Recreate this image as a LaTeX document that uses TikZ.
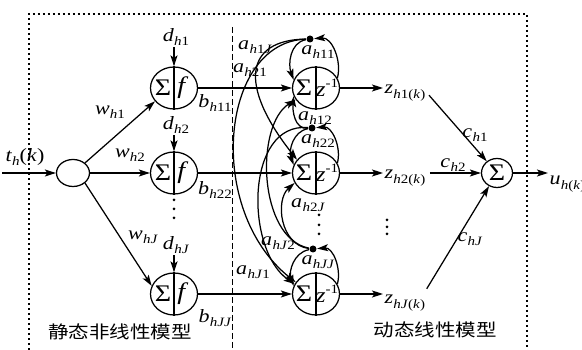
\documentclass[tikz,border=0pt]{standalone}
\usepackage{graphicx}
\usepackage{fontspec}
\setmainfont{Liberation Serif}
\newfontfamily\cjk{Noto Sans CJK SC}
\usetikzlibrary{shapes.geometric,arrows.meta}
\newcommand{\sq}[1]{\scalebox{1}[0.85]{#1}}
\newcommand{\sbs}[1]{\raisebox{-0.5ex}{\fontsize{15}{15}\selectfont #1}}
\newcommand{\vr}[2]{\sq{\textit{#1}\kern0.3pt\sbs{#2}}}
\newcommand{\ih}{\textit{h}}
\begin{document}
\begin{tikzpicture}[x=1pt,y=1pt,
  >={Stealth[length=11pt,width=7pt,inset=2.5pt]},
  line width=1.25pt,
  big/.style={ellipse,draw,minimum width=47pt,minimum height=42pt,inner sep=0pt},
  lab/.style={font=\fontsize{22}{24}\selectfont,inner sep=1pt},
  sym/.style={font=\fontsize{28}{30}\selectfont,inner sep=0pt},
  cjkl/.style={font=\cjk\fontsize{20.5}{22}\selectfont,inner sep=0pt},
  bdot/.style={circle,fill,inner sep=0pt,minimum size=7pt},
  sdot/.style={circle,fill,inner sep=0pt,minimum size=3pt},
  frame/.style={line width=1.6pt,dash pattern=on 1.6pt off 3.4pt},
  sepline/.style={line width=1pt,dash pattern=on 6pt off 3pt}
]
\useasboundingbox (0,0) rectangle (582,350);

% frame and separator
\draw[frame] (29,0) -- (29,336) -- (527,336) -- (527,0);
\draw[sepline] (232,323) -- (232,0);

% main nodes
\node[ellipse,draw,minimum width=33pt,minimum height=27pt,inner sep=0pt] (in) at (73,177) {};
\node[big] (f1) at (174,262) {};
\node[big] (f2) at (174,177) {};
\node[big] (f3) at (174,56) {};
\node[big] (z1) at (316,262) {};
\node[big] (z2) at (316,177) {};
\node[big] (z3) at (316,56) {};
\node[ellipse,draw,minimum width=31pt,minimum height=29pt,inner sep=0pt] (S) at (497,177) {};
\node[sym] (Sg) at (S) {\sq{Σ}};

\foreach \i in {1,2,3}{
  \draw (f\i.north) -- (f\i.south);
  \node[sym] (sf\i) at ([xshift=-11pt]f\i.center) {\sq{Σ}};
  \node[sym] (ff\i) at ([xshift=9pt]f\i.center) {\sq{\textit{f}}};
  \draw (z\i.north) -- (z\i.south);
  \node[sym] (sz\i) at ([xshift=-12pt]z\i.center) {\sq{Σ}};
  \node[lab,inner sep=0pt,font=\fontsize{25}{27}\selectfont] (zz\i) at ([xshift=11pt]z\i.center) {\sq{\textit{z}\raisebox{0.9ex}{\fontsize{15}{15}\selectfont -1}}};
}

% feedback dots
\node[bdot] (D1) at (310,311) {};
\node[bdot] (D2) at (312,222) {};
\node[bdot] (D3) at (313,101) {};

% labels
\node[lab] (t) at (25,193) {\sq{\textit{t}\sbs{\ih}(\textit{k})}};
\node[lab] (w1) at (110,238) {\vr{w}{\ih1}};
\node[lab] (w2) at (130,195) {\vr{w}{\ih2}};
\node[lab] (w3) at (143,113) {\vr{w}{\ih\textit{J}}};
\node[lab] (d1) at (176,313) {\vr{d}{\ih1}};
\node[lab] (d2) at (176,225) {\vr{d}{\ih2}};
\node[lab] (d3) at (176,105) {\vr{d}{\ih\textit{J}}};
\node[lab] (b1) at (215,247) {\vr{b}{\ih11}};
\node[lab] (b2) at (215,160) {\vr{b}{\ih22}};
\node[lab] (b3) at (215,32) {\vr{b}{\ih\textit{JJ}}};
\node[lab] (a11) at (318,298) {\vr{a}{\ih11}};
\node[lab] (a1J) at (255,303) {\vr{a}{\ih1\textit{J}}};
\node[lab] (a21) at (250,280) {\vr{a}{\ih21}};
\node[lab] (a12) at (315,232) {\vr{a}{\ih12}};
\node[lab] (a22) at (318,209) {\vr{a}{\ih22}};
\node[lab] (a2J) at (308,145) {\vr{a}{\ih2\textit{J}}};
\node[lab] (aJ2) at (278,107) {\vr{a}{\ih\textit{J}2}};
\node[lab] (aJ1) at (253,78) {\vr{a}{\ih\textit{J}1}};
\node[lab] (aJJ) at (318,88) {\vr{a}{\ih\textit{JJ}}};
\node[lab,anchor=base west] (zl1) at (383,256) {\vr{z}{\ih1(\textit{k})}};
\node[lab,anchor=base west] (zl2) at (383,171) {\vr{z}{\ih2(\textit{k})}};
\node[lab,anchor=base west] (zl3) at (383,46) {\vr{z}{\ih\textit{J}(\textit{k})}};
\node[lab] (c1) at (475,215) {\vr{c}{\ih1}};
\node[lab] (c2) at (453,185) {\vr{c}{\ih2}};
\node[lab] (c3) at (470,111) {\vr{c}{\ih\textit{J}}};
\node[lab,anchor=base west] (u) at (548,165) {\vr{u}{\ih(\textit{k})}};
\node[cjkl] (cn1) at (120,18) {\sq{静态非线性模型}};
\node[cjkl] (cn2) at (435,20) {\sq{动态线性模型}};

% vertical ellipses
\node[sdot] (e11) at (174,150) {};
\node[sdot] (e12) at (174,141) {};
\node[sdot] (e13) at (174,132) {};
\node[sdot] (e21) at (319,135) {};
\node[sdot] (e22) at (319,125) {};
\node[sdot] (e23) at (319,116) {};
\node[sdot] (e31) at (387,130) {};
\node[sdot] (e32) at (387,123) {};
\node[sdot] (e33) at (387,116) {};

% input side
\coordinate (tin) at (2,177);
\draw[->] (tin) -- (in);
\draw[->] (in.40) -- (f1.215);
\draw[->] (in) -- (f2);
\draw[->] (in.-40) -- (f3.160);
\foreach \i in {1,2,3}{
  \draw[->] (d\i.south -| f\i.north) -- (f\i.north);
  \draw[->] (f\i) -- (z\i);
  \draw[->] (z\i) -- (z\i -| zl\i.west);
  \draw[->] (z\i.25) to[out=75,in=5] (D\i);
}

% recurrent connections
\draw[->] (D1) to[out=190,in=110] (z1.160);
\draw[->] (D1) .. controls (245,310) and (238,265) .. (z2.145);
\draw[->] (D1) .. controls (220,308) and (205,140) .. (z3.150);
\draw[->] (D2) to[out=185,in=-95] (z1.200);
\draw[->] (D2) to[out=190,in=110] (z2.160);
\draw[->] (D2) .. controls (245,228) and (245,100) .. (z3.155);
\draw[->] (D3) .. controls (258,112) and (255,225) .. (z1.210);
\draw[->] (D3) .. controls (280,105) and (275,150) .. (z2.205);
\draw[->] (D3) to[out=190,in=110] (z3.160);

% output side
\draw[->] ([shift={(2pt,-2pt)}]zl1.east) -- (S);
\path (S.west -| zl2.east) coordinate (c2s);
\draw[->] ([xshift=3pt]c2s) -- (S.west);
\draw[->] ([yshift=5pt]zl3.north east) -- (S);
\draw[->] (S) -- (S -| u.west);
\end{tikzpicture}
\end{document}
